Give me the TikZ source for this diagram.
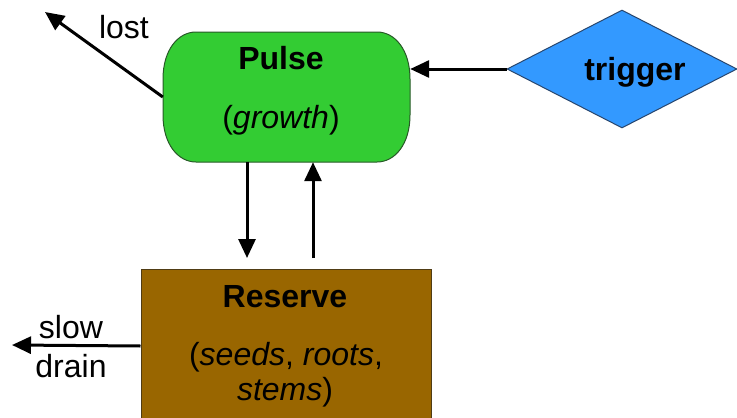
\documentclass[tikz,border=0pt]{standalone}
\usepackage{fontspec}
\setmainfont{Liberation Sans}
\usetikzlibrary{shapes.geometric,arrows.meta}
\definecolor{pulsegreen}{RGB}{51,204,51}
\definecolor{pulseedge}{RGB}{40,90,40}
\definecolor{trigblue}{RGB}{51,153,255}
\definecolor{trigedge}{RGB}{40,70,110}
\definecolor{resbrown}{RGB}{153,102,0}
\definecolor{resedge}{RGB}{80,60,20}
\begin{document}
\begin{tikzpicture}[x=1pt,y=-1pt,
  flow/.style={line width=3pt,-{Triangle[length=19pt,width=17pt]}},
  bigb/.style={font=\fontsize{32}{38}\selectfont\bfseries, inner sep=0pt},
  txt/.style={font=\fontsize{32}{38}\selectfont, inner sep=0pt}]
\useasboundingbox (0,0) rectangle (737,418);
\fill[white] (0,0) rectangle (737,418);
\node[minimum width=247pt, minimum height=130pt, inner sep=0pt] (pulse) at (286.5,97) {};
\filldraw[draw=pulseedge, fill=pulsegreen, line width=1pt]
  (196,32) -- (377,32) .. controls (395,32) and (410,50) .. (410,79)
  -- (410,115) .. controls (410,144) and (395,162) .. (377,162)
  -- (196,162) .. controls (178,162) and (163,144) .. (163,115)
  -- (163,79) .. controls (163,50) and (178,32) .. (196,32) -- cycle;
\node[diamond, draw=trigedge, fill=trigblue, line width=1pt,
      minimum width=230pt, minimum height=118pt, inner sep=0pt] (trig) at (622,69) {};
\node[draw=resedge, fill=resbrown, line width=1pt,
      minimum width=290pt, minimum height=154pt, inner sep=0pt] (res) at (286,346) {};
\node[bigb] (pulset) at (281,58) {Pulse};
\node[txt] (growt) at (281,120) {(\textit{growth})};
\node[bigb] (trigt) at (635,72) {trigger};
\node[bigb] (rest) at (285,297) {Reserve};
\node[txt] (res2) at (286,357) {(\textit{seeds}, \textit{roots},};
\node[txt] (res3) at (285,392) {\textit{stems})};
\node[txt] (lostt) at (124,27) {lost};
\node[txt] (slowt) at (71,327) {slow};
\node[txt] (draint) at (71,366) {drain};
\coordinate (lostend) at (45,12);
\coordinate (drainend) at (12,345);
\coordinate (d1) at (247,258);
\coordinate (u1) at (313,258);
\draw[flow] (trig.west) -- (trig.west -| pulse.east);
\draw[flow] (pulse.west) -- (lostend);
\draw[flow] (pulse.south -| d1) -- (d1);
\draw[flow] (u1) -- (u1 |- pulse.south);
\draw[flow] (res.west) -- (drainend);
\end{tikzpicture}
\end{document}
